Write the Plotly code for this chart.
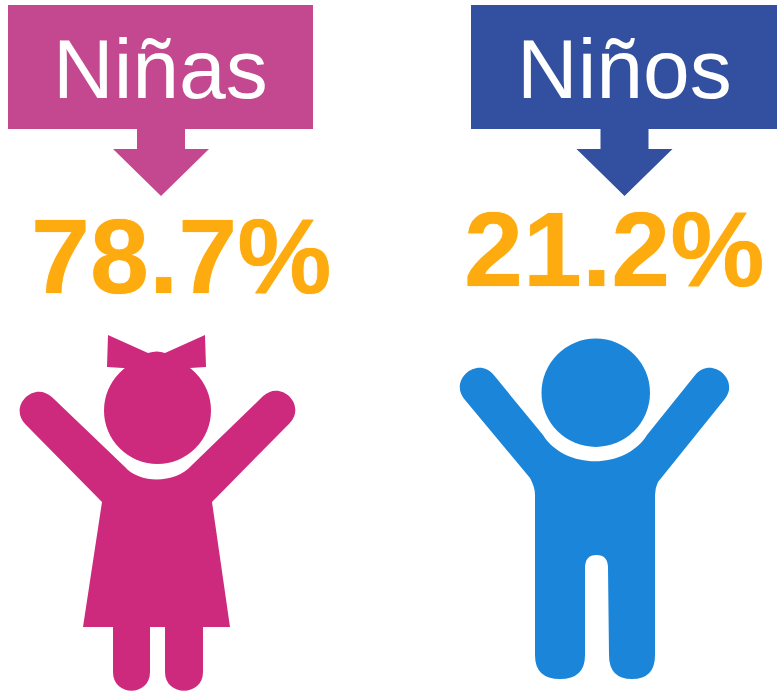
import plotly.graph_objects as go

categories = ["Niñas", "Niños"]
values = [78.7, 21.2]
box_colors = ["#C4488F", "#32509F"]
icon_colors = ["#CE2A7D", "#1B86D9"]
value_color = "#FDAB0F"

W, H = 781, 693
fig = go.Figure()

BOX_X = [(8, 313), (471, 777)]
ARROW_CX = [161, 624.5]
LABEL_Y = [69, 69]
VALUE_CX = [181, 614]
VALUE_Y = [256, 249]

shapes = []
annotations = []
for i, cat in enumerate(categories):
    x0, x1 = BOX_X[i]
    cx = ARROW_CX[i]
    path = (f"M{x0},5 L{x1},5 L{x1},129 L{cx+24},129 L{cx+24},149 L{cx+48},149 "
            f"L{cx},196 L{cx-48},149 L{cx-24},149 L{cx-24},129 L{x0},129 Z")
    shapes.append(dict(type="path", path=path, fillcolor=box_colors[i], line_width=0, layer="below"))
    annotations.append(dict(x=(x0 + x1) / 2, y=LABEL_Y[i], text=cat, showarrow=False,
                            font=dict(family="Liberation Sans", size=84, color="white"),
                            xanchor="center", yanchor="middle"))
    annotations.append(dict(x=VALUE_CX[i], y=VALUE_Y[i], text=f"{values[i]}%", showarrow=False,
                            font=dict(family="Liberation Sans", size=106, color=value_color, weight="bold",
                                      shadow=f"0 0 1px {value_color}"),
                            xanchor="center", yanchor="middle"))

# girl
girl_body = ("M25.6,424.4 C7.6,406.4 34.4,379.6 52.4,397.6 L125,467 C140,484 175,484 192,465 L262.6,396.6 "
             "C280.6,378.6 307.4,405.4 289.4,423.4 L212,502 L230,627 L203,627 L203,672 C203,697 165,697 165,672 "
             "L165,627 L150,627 L150,672 C150,697 113,697 113,672 L113,627 L83,627 L102,502 Z")
girl_bow = ("M108,335 L148,353 Q157,350 165,353 L205,335 L206,367 L190,368 L123,368 L107,367 Z")
shapes += [
    dict(type="path", path=girl_body, fillcolor=icon_colors[0], line_width=0),
    dict(type="path", path=girl_bow, fillcolor=icon_colors[0], line_width=0),
    dict(type="circle", x0=104, x1=211, y0=357, y1=464, fillcolor=icon_colors[0], line_width=0),
]
# boy
boy_body = ("M464.2,398.9 C448.6,379.4 478.2,355.6 493.8,375.1 L543,435 C565,470 625,470 647,435 L695.2,375.1 "
            "C710.8,355.6 740.4,379.4 724.8,398.9 L658,482 Q655,488 655,495 L655,655 Q655,679 632,679 "
            "Q609,679 609,655 L608,568 Q608,555 596.5,555 Q585,555 585,568 L585,655 Q585,679 560,679 "
            "Q535,679 535,655 L535,495 Q535,487 530,478 Z")
shapes += [
    dict(type="path", path=boy_body, fillcolor=icon_colors[1], line_width=0),
    dict(type="circle", x0=541.5, x1=650, y0=338.5, y1=447, fillcolor=icon_colors[1], line_width=0),
]

fig.update_layout(
    width=W, height=H, margin=dict(l=0, r=0, t=0, b=0),
    paper_bgcolor="white", plot_bgcolor="white", showlegend=False,
    xaxis=dict(range=[0, W], visible=False, fixedrange=True),
    yaxis=dict(range=[H, 0], visible=False, fixedrange=True),
    shapes=shapes, annotations=annotations,
)
fig.write_html("out.html", config={"displayModeBar": False},
               post_script="document.body.style.margin='0';document.body.style.overflow='hidden';")
